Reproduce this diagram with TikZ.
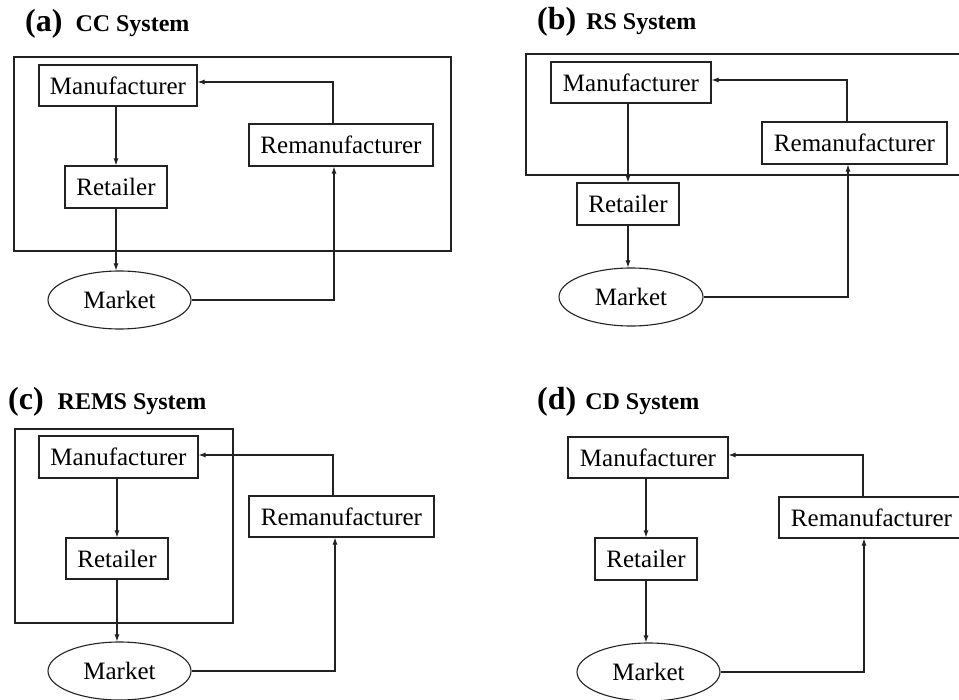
\documentclass[tikz,border=0pt]{standalone}
\usepackage{fontspec}
\setmainfont{Liberation Serif}
\usetikzlibrary{shapes.geometric,arrows.meta,calc}
\definecolor{ink}{HTML}{222222}
\tikzset{
  box/.style={draw=ink, line width=1.1pt, rectangle, inner sep=0pt, text=black,
    font=\fontsize{25}{25}\selectfont},
  mkt/.style={draw=ink, line width=1.1pt, ellipse, inner sep=0pt, text=black,
    font=\fontsize{25}{25}\selectfont, minimum width=143pt, minimum height=58pt},
  arr/.style={draw=ink, line width=1.1pt, -{Latex[length=7pt,width=5pt]}},
  frm/.style={draw=ink, line width=1.1pt},
  ttl/.style={anchor=base west, inner sep=0pt, font=\bfseries\fontsize{24}{24}\selectfont}
}
\newcommand{\tlab}[1]{{\fontsize{32}{32}\selectfont #1}}
\begin{document}
\begin{tikzpicture}[x=1pt,y=-1pt]
\useasboundingbox (0,0) rectangle (959,700);

% ---------- (a) CC System ----------
\node[ttl] (ta) at (25,32) {\tlab{(a)}\hspace{13pt}CC System};
\draw[frm] (14,57) rectangle (451,251);
\node[box, minimum width=158pt, minimum height=41pt] (Ma) at (118,85.5) {Manufacturer};
\node[box, minimum width=102pt, minimum height=42pt] (Ra) at (116,187) {Retailer};
\node[box, minimum width=184pt, minimum height=42pt] (Rea) at (341,145) {Remanufacturer};
\node[mkt] (Mka) at (119.5,300) {Market};
\draw[arr] (Ra.north |- Ma.south) -- (Ra.north);
\draw[arr] (Ra.south) -- (Ra.south |- Mka.north);
\draw[arr] (Mka.east) -| ([xshift=-7pt]Rea.south);
\draw[arr] ([xshift=-8pt]Rea.north) |- ([yshift=3.5pt]Ma.east);

% ---------- (b) RS System ----------
\node[ttl] (tb) at (537,30) {\tlab{(b)}\hspace{10pt}RS System};
\draw[frm] (959,54) -- (526,54) -- (526,175) -- (959,175);
\node[box, minimum width=160pt, minimum height=41pt] (Mb) at (631,82.5) {Manufacturer};
\node[box, minimum width=102pt, minimum height=42pt] (Rb) at (628,204) {Retailer};
\node[box, minimum width=185pt, minimum height=42pt] (Reb) at (854.5,143) {Remanufacturer};
\node[mkt, minimum width=144pt] (Mkb) at (631,297) {Market};
\draw[arr] (Rb.north |- Mb.south) -- (Rb.north);
\draw[arr] (Rb.south) -- (Rb.south |- Mkb.north);
\draw[arr] (Mkb.east) -| ([xshift=-6.5pt]Reb.south);
\draw[arr] ([xshift=-7.5pt]Reb.north) |- ([yshift=2.5pt]Mb.east);

% ---------- (c) REMS System ----------
\node[ttl] (tc) at (8,410) {\tlab{(c)}\hspace{14pt}REMS System};
\draw[frm] (15,429) rectangle (233,623);
\node[box, minimum width=159pt, minimum height=42pt] (Mc) at (118.5,457) {Manufacturer};
\node[box, minimum width=102pt, minimum height=41pt] (Rc) at (117,558.5) {Retailer};
\node[box, minimum width=185pt, minimum height=41pt] (Rec) at (341.5,516.5) {Remanufacturer};
\node[mkt] (Mkc) at (119.5,671) {Market};
\draw[arr] (Rc.north |- Mc.south) -- (Rc.north);
\draw[arr] (Rc.south) -- (Rc.south |- Mkc.north);
\draw[arr] (Mkc.east) -| ([xshift=-6.5pt]Rec.south);
\draw[arr] ([xshift=-8.5pt]Rec.north) |- ([yshift=2pt]Mc.east);

% ---------- (d) CD System ----------
\node[ttl] (td) at (537,410) {\tlab{(d)}\hspace{9pt}CD System};
\node[box, minimum width=160pt, minimum height=41pt] (Md) at (648,457.5) {Manufacturer};
\node[box, minimum width=102pt, minimum height=42pt] (Rd) at (646,559) {Retailer};
\node[box, minimum width=185pt, minimum height=41pt] (Red) at (871.5,517.5) {Remanufacturer};
\node[mkt] (Mkd) at (648.5,672) {Market};
\draw[arr] (Rd.north |- Md.south) -- (Rd.north);
\draw[arr] (Rd.south) -- (Rd.south |- Mkd.north);
\draw[arr] (Mkd.east) -| ([xshift=-7.5pt]Red.south);
\draw[arr] ([xshift=-8.5pt]Red.north) |- ([yshift=2.5pt]Md.east);
\end{tikzpicture}
\end{document}
